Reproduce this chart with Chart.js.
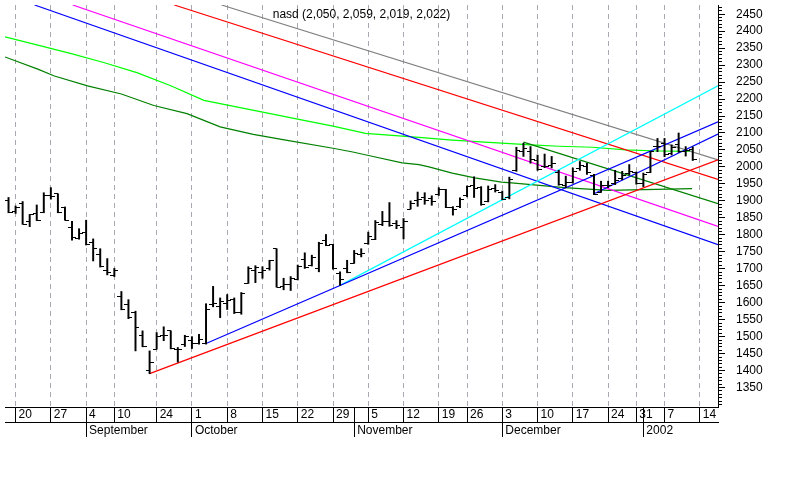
<!DOCTYPE html>
<html>
<head>
<meta charset="utf-8">
<script src="https://cdn.jsdelivr.net/npm/chart.js@4.4.0/dist/chart.umd.min.js"></script>
<style>
  html, body { margin: 0; padding: 0; background: #fff; }
  #marco { width: 800px; height: 500px; }
</style>
</head>
<body>
<div id="marco"><canvas id="grafica"></canvas></div>
<script>
// indice de sesion: 0 = 17 ago 2001 ... 97 = 11 ene 2002
const aperturas = [1900, 1870, 1893, 1840, 1863, 1866, 1915, 1921, 1880, 1822,
  1790, 1808, 1776, 1742, 1694, 1679, 1617, 1594, 1570, 1502,
  1400, 1463, 1504, 1517, 1463, 1478, 1490, 1480, 1481, 1595,
  1590, 1598, 1610, 1570, 1657, 1696, 1689, 1700, 1759, 1648,
  1653, 1669, 1726, 1710, 1700, 1784, 1772, 1686, 1700, 1716,
  1742, 1775, 1786, 1830, 1840, 1832, 1822, 1876, 1900, 1910,
  1906, 1918, 1934, 1880, 1884, 1915, 1945, 1938, 1897, 1935,
  1925, 1910, 1990, 2045, 2045, 2020, 2000, 2005, 1985, 1945,
  1955, 1995, 2000, 1975, 1925, 1946, 1950, 1965, 1982, 1985,
  1950, 1985, 2060, 2070, 2040, 2065, 2045, 2050];
const maximos = [1910, 1885, 1898, 1860, 1888, 1924, 1939, 1921, 1882, 1840,
  1818, 1843, 1788, 1759, 1730, 1701, 1633, 1609, 1575, 1517,
  1458, 1512, 1529, 1517, 1468, 1504, 1500, 1507, 1597, 1648,
  1614, 1624, 1614, 1630, 1706, 1709, 1706, 1725, 1759, 1672,
  1677, 1711, 1747, 1740, 1778, 1801, 1772, 1691, 1725, 1754,
  1759, 1808, 1842, 1869, 1895, 1842, 1848, 1900, 1926, 1924,
  1915, 1939, 1934, 1883, 1909, 1944, 1971, 1942, 1944, 1948,
  1929, 1970, 2058, 2070, 2060, 2035, 2038, 2031, 1990, 1973,
  1997, 2016, 2011, 1978, 1958, 1958, 1990, 1987, 2007, 1985,
  1982, 2046, 2084, 2084, 2065, 2100, 2060, 2059];
const minimos = [1865, 1863, 1831, 1824, 1842, 1865, 1905, 1865, 1843, 1784,
  1787, 1770, 1723, 1705, 1682, 1677, 1579, 1553, 1458, 1470,
  1391, 1463, 1488, 1464, 1425, 1471, 1465, 1478, 1478, 1588,
  1556, 1580, 1568, 1566, 1657, 1659, 1672, 1696, 1646, 1638,
  1636, 1667, 1701, 1708, 1691, 1768, 1699, 1651, 1688, 1716,
  1735, 1772, 1786, 1827, 1825, 1818, 1788, 1876, 1884, 1890,
  1887, 1916, 1880, 1858, 1880, 1912, 1910, 1887, 1897, 1926,
  1903, 1906, 1987, 2031, 2011, 1990, 1998, 1997, 1946, 1939,
  1952, 1990, 1978, 1918, 1925, 1939, 1948, 1962, 1977, 1949,
  1942, 1983, 2045, 2030, 2035, 2043, 2032, 2019];
const cierres = [1867, 1881, 1831, 1860, 1843, 1917, 1912, 1865, 1843, 1792,
  1805, 1771, 1759, 1706, 1688, 1695, 1580, 1555, 1528, 1471,
  1423, 1499, 1502, 1464, 1461, 1499, 1480, 1492, 1581, 1597,
  1605, 1606, 1570, 1626, 1701, 1703, 1696, 1723, 1646, 1653,
  1671, 1708, 1704, 1732, 1775, 1769, 1700, 1667, 1690, 1746,
  1746, 1794, 1835, 1838, 1828, 1828, 1840, 1892, 1903, 1901,
  1899, 1934, 1881, 1875, 1903, 1941, 1936, 1888, 1933, 1931,
  1905, 1964, 2047, 2054, 2021, 1992, 2002, 2011, 1947, 1953,
  1987, 2005, 1983, 1919, 1946, 1944, 1961, 1976, 1987, 1950,
  1979, 2044, 2059, 2037, 2056, 2045, 2047, 2022];

// medias moviles [sesion, valor]
const mediaCorta = [[-0.5, 2383], [4.15, 2359], [8.9, 2334], [13.6, 2307], [18.2, 2278],
  [23, 2239], [27.7, 2196], [32.3, 2177], [37.1, 2157], [41.7, 2138], [46, 2120],
  [50.6, 2099], [58.2, 2087], [62.9, 2079], [67.5, 2073], [74.1, 2065], [78, 2061],
  [82.8, 2058], [87.5, 2050], [92.1, 2047], [96.9, 2046]];
const mediaLarga = [[-0.5, 2324], [4.15, 2288], [6.5, 2268], [11.2, 2239], [16, 2215],
  [20.6, 2181], [25.3, 2157], [30, 2118], [34.7, 2096], [39.3, 2079], [46, 2055],
  [48.8, 2044], [51.2, 2033], [55.8, 2012], [58.2, 2007], [59.6, 2000], [62.9, 1982],
  [66.1, 1968], [69.9, 1955], [71.3, 1953], [74.1, 1948], [78.8, 1939], [85, 1931],
  [96.9, 1936]];

// lineas de tendencia [sesion, valor]
const lineaGris = [[30.2, 2477], [100.58, 2021]];
const lineaRojaBaja = [[23.5, 2477], [100.58, 1963]];
const lineaMagenta = [[9.1, 2477], [100.58, 1825]];
const lineaAzulBaja = [[3.7, 2477], [100.58, 1771]];
const lineaVerdeBaja = [[73, 2073], [100.58, 1892]];
const lineaRojaSube = [[20, 1391], [100.58, 2021]];
const lineaAzulSube = [[28, 1480], [100.58, 2133]];
const lineaAzulSube2 = [[83, 1921], [100.58, 2097]];
const lineaCian = [[47, 1651], [100.58, 2239]];

const tickDias = [1, 6, 11, 15, 21, 26, 31, 36, 41, 46, 49, 51, 56, 61, 65, 70, 75, 80, 85, 89, 90, 93, 98];
const etiquetasDias = ["20", "27", "4", "10", "24", "1", "8", "15", "22", "29", "", "5", "12", "19", "26", "3", "10", "17", "24", "31", "", "7", "14"];
const tickMeses = [11, 26, 49, 70, 90];
const etiquetasMeses = ["September", "October", "November", "December", "2002"];
const marcasPrecio = [1350, 1400, 1450, 1500, 1550, 1600, 1650, 1700, 1750, 1800, 1850, 1900,
  1950, 2000, 2050, 2100, 2150, 2200, 2250, 2300, 2350, 2400, 2450];
const titulo = "nasd (2,050, 2,059, 2,019, 2,022)";

const xMin = -0.5, xMax = 100.58;
const yMin = 1292.7, yMax = 2477.1;

Chart.defaults.font.family = "'Liberation Sans', Arial, sans-serif";
Chart.defaults.font.size = 12;
Chart.defaults.color = "#000";

// marcas de apertura (izquierda) y cierre (derecha)
function marca(lado) {
  const c = document.createElement("canvas");
  c.width = 8;
  c.height = 1;
  const g = c.getContext("2d");
  g.fillStyle = "#000";
  g.fillRect(lado === "izq" ? 0 : 4, 0, 4, 1);
  return c;
}

const aPuntos = arr => arr.map(p => ({ x: p[0], y: p[1] }));

function linea(datos, color) {
  return {
    type: "line",
    data: aPuntos(datos),
    borderColor: color,
    borderWidth: 1.2,
    pointRadius: 0,
    tension: 0,
    fill: false,
  };
}

const menores = [];
for (let v = 1300; v <= 2470; v += 10) menores.push({ value: v });

// titulo dentro del area de la grafica
const tituloDentro = {
  id: "tituloDentro",
  afterDraw(chart) {
    const { ctx, chartArea } = chart;
    ctx.save();
    ctx.font = "12px 'Liberation Sans', Arial, sans-serif";
    ctx.fillStyle = "#000";
    ctx.textAlign = "center";
    ctx.textBaseline = "middle";
    ctx.fillText(titulo, (chartArea.left + chartArea.right) / 2, chartArea.top + 9.5);
    ctx.restore();
  },
};

const sinRelleno = s => { s.paddingTop = 0; s.paddingBottom = 0; };

new Chart(document.getElementById("grafica"), {
  type: "bar",
  data: {
    datasets: [
      {
        type: "bar",
        data: maximos.map((h, i) => ({ x: i, y: [minimos[i], h] })),
        backgroundColor: "#000",
        barThickness: 1.3,
        grouped: false,
      },
      {
        type: "line",
        showLine: false,
        data: aperturas.map((v, i) => ({ x: i, y: v })),
        pointStyle: marca("izq"),
        pointRadius: 4,
      },
      {
        type: "line",
        showLine: false,
        data: cierres.map((v, i) => ({ x: i, y: v })),
        pointStyle: marca("der"),
        pointRadius: 4,
      },
      linea(lineaRojaSube, "#ff0000"),
      linea(lineaAzulSube, "#0000ff"),
      linea(lineaAzulSube2, "#0000ff"),
      linea(lineaCian, "#00ffff"),
      linea(lineaVerdeBaja, "#008000"),
      linea(lineaGris, "#808080"),
      linea(lineaRojaBaja, "#ff0000"),
      linea(lineaMagenta, "#ff00ff"),
      linea(lineaAzulBaja, "#0000ff"),
      linea(mediaCorta, "#00ff00"),
      linea(mediaLarga, "#008000"),
    ],
  },
  plugins: [tituloDentro],
  options: {
    responsive: true,
    maintainAspectRatio: false,
    animation: false,
    devicePixelRatio: 1,
    layout: { padding: { left: 0, right: 0, top: 0, bottom: 62 } },
    plugins: {
      legend: { display: false },
      tooltip: { enabled: false },
      title: { display: false },
    },
    scales: {
      x: {
        type: "linear",
        position: "bottom",
        weight: 0,
        min: xMin,
        max: xMax,
        offset: false,
        afterBuildTicks: s => { s.ticks = tickDias.map(v => ({ value: v })); },
        afterFit: s => { s.height = 15; s.paddingLeft = 0; s.paddingRight = 0; },
        ticks: {
          autoSkip: false,
          maxRotation: 0,
          align: "start",
          labelOffset: 3,
          padding: -14.5,
          callback: v => etiquetasDias[tickDias.indexOf(v)],
        },
        grid: {
          offset: false,
          color: c => (c.tick && (c.tick.value === 49 || c.tick.value === 90)) ? "rgba(0,0,0,0)" : "#a9a9b4",
          lineWidth: 1,
          drawTicks: true,
          tickLength: 15,
          tickColor: "#000",
          tickWidth: 1,
          tickBorderDash: [],
        },
        border: { display: true, color: "#000", width: 1, dash: [5, 4] },
      },
      x2: {
        type: "linear",
        position: "bottom",
        weight: 1,
        min: xMin,
        max: xMax,
        offset: false,
        afterBuildTicks: s => { s.ticks = tickMeses.map(v => ({ value: v })); },
        afterFit: s => { s.height = 16; s.paddingLeft = 0; s.paddingRight = 0; },
        ticks: {
          autoSkip: false,
          maxRotation: 0,
          align: "start",
          labelOffset: 3,
          padding: -13.5,
          callback: v => etiquetasMeses[tickMeses.indexOf(v)],
        },
        grid: {
          offset: false,
          drawOnChartArea: false,
          tickLength: 15,
          tickColor: "#000",
        },
        border: { display: true, color: "#000", width: 1 },
      },
      yMenor: {
        type: "linear",
        position: "right",
        weight: 0,
        min: yMin,
        max: yMax,
        afterBuildTicks: s => { s.ticks = menores; },
        afterFit: s => { s.width = 0; sinRelleno(s); },
        ticks: { display: false },
        grid: { drawOnChartArea: false, tickLength: 4, tickColor: "#000" },
        border: { display: false },
      },
      y: {
        type: "linear",
        position: "right",
        weight: 1,
        min: yMin,
        max: yMax,
        beginAtZero: false,
        afterBuildTicks: s => { s.ticks = marcasPrecio.map(v => ({ value: v })); },
        afterFit: s => { s.width = 82; sinRelleno(s); },
        ticks: { padding: 11, callback: v => String(v) },
        grid: { drawOnChartArea: false, tickLength: 7, tickColor: "#000" },
        border: { display: true, color: "#000", width: 1 },
      },
    },
  },
});
</script>
</body>
</html>
